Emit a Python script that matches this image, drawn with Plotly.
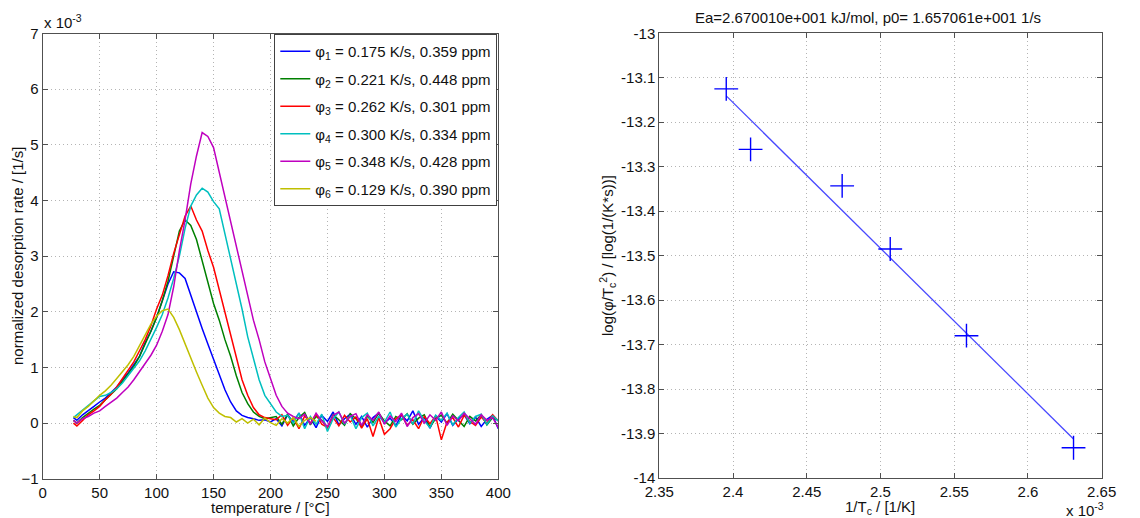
import numpy as np
import plotly.graph_objects as go

# ---------------- data: left panel (values in units of 1e-3 1/s) ----------------
temperature_c = [27] + list(range(30, 401, 5))

rate_phi1 = [0.1, 0.05, 0.15, 0.22, 0.3, 0.38, 0.45, 0.55, 0.65, 0.78,
             0.9, 1.05, 1.2, 1.45, 1.65, 1.9, 2.2, 2.5, 2.72, 2.7,
             2.6, 2.3, 1.97, 1.7, 1.42, 1.15, 0.88, 0.6, 0.38, 0.22,
             0.14, 0.1, 0.08, 0.05, 0.06, 0.02,
             0.08, -0.05, 0.15, 0.02, 0.18, -0.04, 0.1, -0.08, 0.14, 0.03,
             0.2, -0.03, 0.08, 0.16, -0.02, 0.12, -0.07, 0.1, 0.18, 0.0,
             0.09, -0.05, 0.15, 0.04, 0.22, -0.02, 0.1, -0.09, 0.13, 0.02,
             0.17, -0.04, 0.08, 0.15, -0.01, 0.11, -0.06, 0.07, 0.14, -0.1]

rate_phi2 = [0.05, 0.0, 0.1, 0.18, 0.25, 0.32, 0.42, 0.52, 0.62, 0.75,
             0.88, 1.02, 1.2, 1.42, 1.65, 1.9, 2.2, 2.55, 3.0, 3.45,
             3.65, 3.55, 3.3, 2.9, 2.5, 2.15, 1.85, 1.5, 1.2, 0.85,
             0.55, 0.35, 0.2, 0.12, 0.08, 0.1,
             0.12, -0.02, 0.16, -0.05, 0.1, 0.19, -0.03, 0.12, 0.05, -0.08,
             0.15, 0.06, -0.04, 0.17, 0.08, -0.06, 0.13, 0.01, 0.18, 0.04,
             -0.05, 0.12, 0.06, 0.17, -0.02, 0.09, 0.15, -0.07, 0.08, 0.14,
             0.0, 0.16, 0.05, -0.06, 0.12, 0.04, 0.15, -0.03, 0.1, 0.05]

rate_phi3 = [0.0, -0.05, 0.05, 0.15, 0.22, 0.3, 0.42, 0.52, 0.65, 0.8,
             0.95, 1.1, 1.3, 1.5, 1.75, 2.05, 2.3, 2.65, 3.05, 3.4,
             3.72, 3.9, 3.65, 3.45, 3.1, 2.8, 2.4, 2.0, 1.55, 1.15,
             0.78, 0.5, 0.28, 0.15, 0.1, 0.08,
             0.06, 0.15, -0.04, 0.1, -0.1, 0.13, 0.0, 0.16, -0.02, -0.08,
             0.1, -0.05, 0.14, 0.02, 0.11, -0.09, 0.08, -0.24, 0.1, -0.2,
             -0.1, 0.08, 0.15, -0.04, 0.06, -0.1, 0.12, -0.01, 0.13, -0.3,
             0.02, 0.1, -0.07, 0.14, 0.03, -0.04, 0.11, 0.0, 0.15, 0.04]

rate_phi4 = [0.1, 0.15, 0.25, 0.32, 0.4, 0.48, 0.5, 0.55, 0.62, 0.72,
             0.85, 0.98, 1.12, 1.3, 1.5, 1.72, 1.95, 2.25, 2.6, 3.0,
             3.5, 3.9, 4.1, 4.22, 4.15, 3.98, 3.85, 3.4, 3.0, 2.5,
             2.05, 1.55, 1.15, 0.78, 0.5, 0.35, 0.2, 0.12,
             0.14, 0.0, 0.18, -0.1, 0.12, -0.02, 0.16, -0.15, 0.08, 0.2,
             -0.02, 0.14, -0.1, 0.1, 0.18, -0.05, 0.12, 0.02, 0.2, -0.07,
             0.08, 0.16, -0.02, 0.22, 0.04, -0.08, 0.14, 0.05, 0.18, -0.03,
             0.1, 0.2, 0.0, 0.12, 0.16, -0.02, 0.13, 0.04]

rate_phi5 = [0.05, 0.0, 0.08, 0.12, 0.18, 0.22, 0.3, 0.38, 0.45, 0.55,
             0.65, 0.78, 0.92, 1.08, 1.22, 1.4, 1.65, 1.95, 2.45, 3.1,
             3.65, 4.3, 4.8, 5.22, 5.15, 4.95, 4.5, 4.05, 3.6, 3.15,
             2.7, 2.25, 1.85, 1.5, 1.1, 0.8, 0.5, 0.3, 0.18, 0.12,
             0.08, 0.16, -0.02, 0.18, 0.04, -0.06, 0.14, 0.2, 0.0, 0.12,
             0.17, -0.04, 0.15, 0.05, 0.2, -0.02, 0.13, 0.03, 0.18, -0.06,
             0.1, 0.17, 0.0, 0.15, 0.05, 0.2, -0.04, 0.13, 0.04, 0.18,
             0.08, -0.02, 0.15, 0.05, 0.1, -0.08]

rate_phi6 = [0.12, 0.1, 0.22, 0.3, 0.4, 0.5, 0.58, 0.68, 0.8, 0.92,
             1.05, 1.2, 1.4, 1.6, 1.78, 1.92, 2.02, 2.05, 1.9, 1.68,
             1.42, 1.18, 0.92, 0.68, 0.45, 0.28, 0.18, 0.12, 0.1, 0.02,
             0.08, 0.0, 0.07, -0.03, 0.09, 0.01, -0.04, 0.08, 0.0, 0.1,
             -0.06, 0.05, 0.1, 0.03]

series_rates = [rate_phi1, rate_phi2, rate_phi3, rate_phi4, rate_phi5, rate_phi6]
series_labels = [
    "φ<sub>1</sub> = 0.175 K/s, 0.359 ppm",
    "φ<sub>2</sub> = 0.221 K/s, 0.448 ppm",
    "φ<sub>3</sub> = 0.262 K/s, 0.301 ppm",
    "φ<sub>4</sub> = 0.300 K/s, 0.334 ppm",
    "φ<sub>5</sub> = 0.348 K/s, 0.428 ppm",
    "φ<sub>6</sub> = 0.129 K/s, 0.390 ppm",
]
series_colors = ["#0000ff", "#008000", "#ff0000", "#00bfbf", "#bf00bf", "#bfbf00"]

left_xticks = [0, 50, 100, 150, 200, 250, 300, 350, 400]
left_yticks = [-1, 0, 1, 2, 3, 4, 5, 6, 7]

# ---------------- data: right panel (1/Tc in units of 1e-3 1/K) ----------------
inv_tc = [2.3954, 2.4119, 2.474, 2.5066, 2.5583, 2.6309]
log_phi_tc2 = [-13.125, -13.261, -13.343, -13.485, -13.68, -13.932]
right_xticks = [2.35, 2.4, 2.45, 2.5, 2.55, 2.6, 2.65]
right_xticklabels = ["2.35", "2.4", "2.45", "2.5", "2.55", "2.6", "2.65"]
right_yticks = [-14, -13.9, -13.8, -13.7, -13.6, -13.5, -13.4, -13.3, -13.2, -13.1, -13]
right_yticklabels = ["-14", "-13.9", "-13.8", "-13.7", "-13.6", "-13.5", "-13.4",
                     "-13.3", "-13.2", "-13.1", "-13"]

W, H = 1140, 518
FONT = "Liberation Sans, Arial, Helvetica, sans-serif"
FS = 15

fig = go.Figure()
for i, (rates, label, col) in enumerate(zip(series_rates, series_labels, series_colors)):
    fig.add_trace(go.Scatter(
        x=temperature_c[:len(rates)], y=rates, mode="lines", name=label,
        line=dict(color=col, width=1.5), legendgroup=f"g{i}",
        xaxis="x", yaxis="y"))

slope, intercept = np.polyfit(inv_tc, log_phi_tc2, 1)
fit_x = [min(inv_tc), max(inv_tc)]
fit_y = [slope * v + intercept for v in fit_x]
fig.add_trace(go.Scatter(x=fit_x, y=fit_y, mode="lines", showlegend=False,
                         line=dict(color="#4848ff", width=1.3), xaxis="x2", yaxis="y2"))
fig.add_trace(go.Scatter(x=inv_tc, y=log_phi_tc2, mode="markers", showlegend=False,
                         marker=dict(symbol="cross-thin", size=17,
                                     line=dict(color="#0000ff", width=1.4)),
                         xaxis="x2", yaxis="y2"))

axis_style = dict(showline=True, linecolor="#505050", linewidth=1, mirror="allticks",
                  ticks="inside", ticklen=5, tickcolor="#505050", showgrid=True,
                  gridcolor="#b4b4b4", griddash="1px,3px", gridwidth=1, zeroline=False,
                  automargin=False,
                  tickfont=dict(family=FONT, size=FS, color="#111111"))

def px(x):
    return x / W

def py(y):
    return 1 - y / H

fig.update_layout(
    width=W, height=H, margin=dict(l=0, r=0, t=0, b=0, autoexpand=False),
    paper_bgcolor="white", plot_bgcolor="white",
    font=dict(family=FONT, size=FS, color="#111111"),
    xaxis=dict(domain=[px(42.7), px(498.3)], range=[0, 400], tickvals=left_xticks,
               anchor="y", **axis_style),
    yaxis=dict(domain=[py(478.8), py(33.5)], range=[-1, 7], tickvals=left_yticks,
               anchor="x", **axis_style),
    xaxis2=dict(domain=[px(659.3), px(1101.7)], range=[2.35, 2.65], tickvals=right_xticks,
                ticktext=right_xticklabels, anchor="y2", **axis_style),
    yaxis2=dict(domain=[py(478.0), py(33.3)], range=[-14, -13], tickvals=right_yticks,
                ticktext=right_yticklabels, anchor="x2", **axis_style),
    legend=dict(x=px(497.3), xanchor="right", y=py(34), yanchor="top",
                bgcolor="white", bordercolor="#404040", borderwidth=1,
                font=dict(family=FONT, size=FS, color="#111111"),
                tracegroupgap=5, itemwidth=30),
    showlegend=True,
)

annotations = [
    dict(text="temperature / [°C]", x=px(270), y=py(507), xanchor="center", yanchor="middle"),
    dict(text="normalized desorption rate / [1/s]", x=px(17), y=py(256), textangle=-90,
         xanchor="center", yanchor="middle"),
    dict(text="x 10<sup>-3</sup>", x=px(42), y=py(21), xanchor="left", yanchor="middle"),
    dict(text="Ea=2.670010e+001 kJ/mol, p0= 1.657061e+001 1/s", x=px(868), y=py(17),
         xanchor="center", yanchor="middle"),
    dict(text="1/T<sub>c</sub> / [1/K]", x=px(880), y=py(507), xanchor="center", yanchor="middle"),
    dict(text="log(φ/T<sub>c</sub><sup>2</sup>) / [log(1/(K*s))]", x=px(607), y=py(256),
         textangle=-90, xanchor="center", yanchor="middle"),
    dict(text="x 10<sup>-3</sup>", x=px(1064), y=py(509), xanchor="left", yanchor="middle"),
]
for a in annotations:
    a.update(xref="paper", yref="paper", showarrow=False,
             font=dict(family=FONT, size=FS, color="#111111"))
fig.update_layout(annotations=annotations)

fig.write_html("out.html", config={"displayModeBar": False},
               post_script="document.body.style.margin='0';document.body.style.overflow='hidden';")
